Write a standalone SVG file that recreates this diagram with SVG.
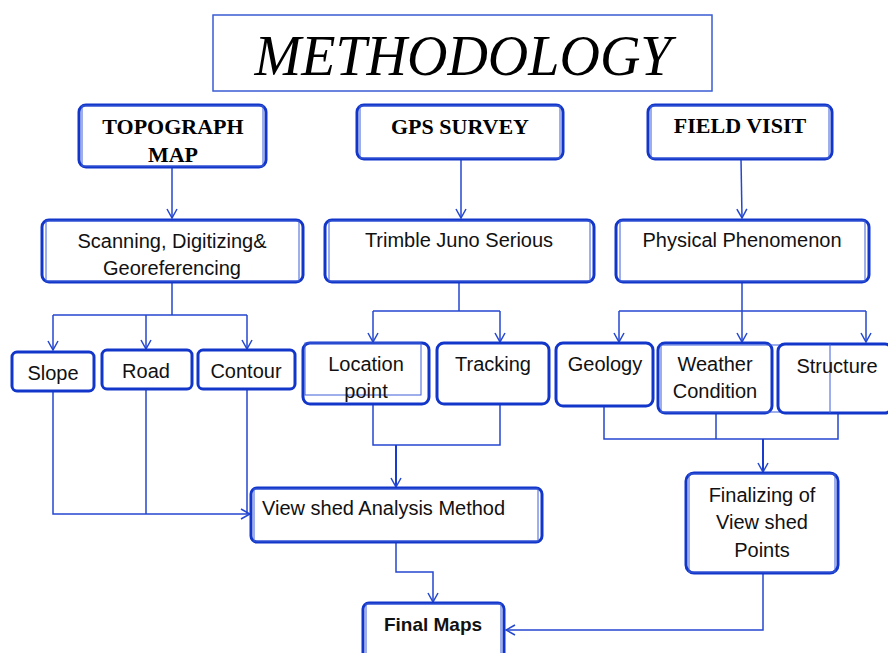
<svg xmlns="http://www.w3.org/2000/svg" width="888" height="653" viewBox="0 0 888 653">
<style>
.box{fill:#fff;stroke:#1236c9;stroke-width:3}
.inner{fill:none;stroke:#3e5fd9;stroke-width:1}
.title{fill:#fff;stroke:#3a5cd4;stroke-width:1.5}
.c{fill:none;stroke:#2447d0;stroke-width:1.5}
.c2{fill:none;stroke:#1a3ccc;stroke-width:2}
.h{font-family:"Liberation Serif","Times New Roman",serif;font-weight:bold;font-size:22px;fill:#000;text-anchor:middle}
.t{font-family:"Liberation Sans",Arial,sans-serif;font-size:20px;fill:#111;text-anchor:middle}
.tl{font-family:"Liberation Sans",Arial,sans-serif;font-size:20px;fill:#111}
.fb{font-family:"Liberation Sans",Arial,sans-serif;font-size:19px;font-weight:bold;fill:#111;text-anchor:middle}
</style>
<defs>
<marker id="arr" viewBox="0 0 12 12" refX="11" refY="6" markerWidth="12" markerHeight="12" markerUnits="userSpaceOnUse" orient="auto">
<path d="M2,1 L11,6 L2,11" fill="none" stroke="#2447d0" stroke-width="1.5"/>
</marker>
</defs>

<g id="title">
<rect class="title" x="213" y="15" width="499" height="76"/>
<text x="463" y="75" font-family="'Liberation Serif','Times New Roman',serif" font-style="italic" font-size="56" text-anchor="middle" fill="#000">METHODOLOGY</text>
</g>

<g id="connectors">
<path class="c" d="M172,167 V218" marker-end="url(#arr)"/>
<path class="c" d="M461,159 V218" marker-end="url(#arr)"/>
<path class="c" d="M741,159 L742,218" marker-end="url(#arr)"/>
<path class="c" d="M172,282 V315 M53,315 H247"/>
<path class="c" d="M53,315 V350" marker-end="url(#arr)"/>
<path class="c" d="M146,315 V349" marker-end="url(#arr)"/>
<path class="c" d="M247,315 V349" marker-end="url(#arr)"/>
<path class="c" d="M459,282 V311 M373,311 H500"/>
<path class="c" d="M373,311 V342" marker-end="url(#arr)"/>
<path class="c" d="M500,311 V342" marker-end="url(#arr)"/>
<path class="c" d="M619,311 H866"/>
<path class="c" d="M619,311 V342" marker-end="url(#arr)"/>
<path class="c" d="M742,282 V342" marker-end="url(#arr)"/>
<path class="c" d="M866,311 V342" marker-end="url(#arr)"/>
<path class="c" d="M146,389 V514 M247,389 V514"/>
<path class="c" d="M53,391 V514 H250" marker-end="url(#arr)"/>
<path class="c" d="M373,404 V445 H500 V404"/>
<path class="c2" d="M396,445 V487" marker-end="url(#arr)"/>
<path class="c" d="M604,406 V439 H838 V413 M716,413 V439"/>
<path class="c2" d="M763,439 V472" marker-end="url(#arr)"/>
<path class="c" d="M396,542 V572 H433 V602" marker-end="url(#arr)"/>
<path class="c" d="M763,573 V630 H506" marker-end="url(#arr)"/>
</g>

<g id="topograph">
<rect class="box" x="79" y="105" width="187" height="62" rx="7"/>
<rect class="inner" x="82" y="106" width="181" height="60"/>
<text class="h" x="173" y="134">TOPOGRAPH</text>
<text class="h" x="173" y="162">MAP</text>
</g>
<g id="gps">
<rect class="box" x="357" y="105" width="206" height="54" rx="7"/>
<rect class="inner" x="360" y="106" width="200" height="52"/>
<text class="h" x="460" y="134">GPS SURVEY</text>
</g>
<g id="field">
<rect class="box" x="648" y="105" width="184" height="54" rx="7"/>
<rect class="inner" x="651" y="106" width="178" height="52"/>
<text class="h" x="740" y="133">FIELD VISIT</text>
</g>
<g id="scanning">
<rect class="box" x="42" y="220" width="261" height="62" rx="7"/>
<rect class="inner" x="46" y="221" width="253" height="60"/>
<text class="t" x="172" y="248">Scanning, Digitizing&amp;</text>
<text class="t" x="172" y="275">Georeferencing</text>
</g>
<g id="trimble">
<rect class="box" x="325" y="220" width="269" height="62" rx="7"/>
<rect class="inner" x="329" y="221" width="261" height="60"/>
<text class="t" x="459" y="247">Trimble Juno Serious</text>
</g>
<g id="physical">
<rect class="box" x="616" y="220" width="253" height="62" rx="7"/>
<rect class="inner" x="620" y="221" width="245" height="60"/>
<text class="t" x="742" y="247">Physical Phenomenon</text>
</g>
<g id="slope">
<rect class="box" x="12" y="352" width="82" height="39" rx="5"/>
<text class="t" x="53" y="380">Slope</text>
</g>
<g id="road">
<rect class="box" x="102" y="350" width="90" height="39" rx="5"/>
<text class="t" x="146" y="378">Road</text>
</g>
<g id="contour">
<rect class="box" x="198" y="350" width="97" height="39" rx="5"/>
<text class="t" x="246" y="378">Contour</text>
</g>
<g id="location">
<rect class="box" x="303" y="343" width="126" height="61" rx="7"/>
<rect class="inner" x="305" y="343" width="116" height="52"/>
<text class="t" x="366" y="371">Location</text>
<text class="t" x="366" y="398">point</text>
</g>
<g id="tracking">
<rect class="box" x="437" y="343" width="112" height="61" rx="7"/>
<text class="t" x="493" y="371">Tracking</text>
</g>
<g id="geology">
<rect class="box" x="556" y="343" width="97" height="63" rx="7"/>
<text class="t" x="605" y="371">Geology</text>
</g>
<g id="weather">
<rect class="box" x="658" y="343" width="114" height="70" rx="7"/>
<rect class="inner" x="661" y="345" width="120" height="67"/>
<text class="t" x="715" y="371">Weather</text>
<text class="t" x="715" y="398">Condition</text>
</g>
<g id="structure">
<rect class="box" x="778" y="344" width="114" height="69" rx="7"/>
<line class="inner" x1="830" y1="344" x2="830" y2="413"/>
<text class="t" x="837" y="373">Structure</text>
</g>
<g id="viewshed">
<rect class="box" x="251" y="488" width="291" height="54" rx="6"/>
<rect class="inner" x="254" y="489" width="284" height="52"/>
<text class="tl" x="262" y="515">View shed Analysis Method</text>
</g>
<g id="finalizing">
<rect class="box" x="686" y="473" width="152" height="100" rx="8"/>
<rect class="inner" x="689" y="474" width="146" height="98"/>
<text class="t" x="762" y="502">Finalizing of</text>
<text class="t" x="762" y="529">View shed</text>
<text class="t" x="762" y="557">Points</text>
</g>
<g id="final">
<rect class="box" x="363" y="603" width="141" height="60" rx="6"/>
<rect class="inner" x="366" y="604" width="135" height="58"/>
<text class="fb" x="433" y="631">Final Maps</text>
</g>
</svg>
